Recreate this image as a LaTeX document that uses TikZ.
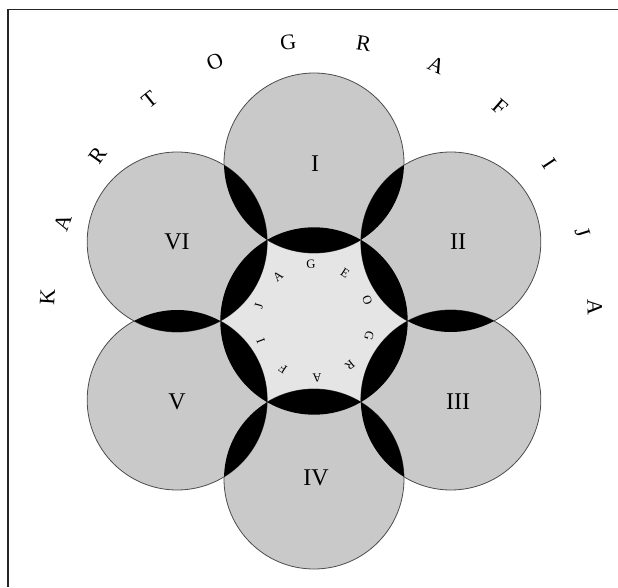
\documentclass[tikz,border=0pt]{standalone}
\usepackage{fontspec}
\setmainfont{Liberation Serif}
\usepackage{tikz}
\usetikzlibrary{positioning}
\usepackage{xcolor}
\definecolor{petalgray}{gray}{0.79}
\definecolor{coregray}{gray}{0.90}
\definecolor{rimgray}{gray}{0.30}

\begin{document}
\begin{tikzpicture}[
  x=1pt, y=1pt,
  petal/.style={fill=petalgray, draw=rimgray, line width=0.8pt},
  core/.style={fill=coregray},
  lens/.style={fill=black},
  frameline/.style={draw=black!85, line width=1.3pt},
  numlbl/.style={font=\fontsize{24}{24}\selectfont, inner sep=0pt},
  arcletter/.style={font=\fontsize{22}{22}\selectfont, inner sep=0pt},
  ringletter/.style={font=\fontsize{12.5}{13}\selectfont, inner sep=0pt}
]
\useasboundingbox (0,0) rectangle (618,587);
\draw[frameline] (8,0) -- (8,577.5) -- (618,577.5);

% centre and the six petals
\coordinate (C) at (314,266);
\coordinate (T) at (321,273);
\foreach \k in {1,...,6}
  \coordinate (c\k) at ([shift={({150-60*\k}:158pt)}]C);

\fill[core] (C) circle (93.7pt);
\foreach \k in {1,...,6} \draw[petal] (c\k) circle (90pt);

% black overlaps: petals with the core, neighbouring petals
\begin{scope}
  \clip (C) circle (93.7pt);
  \foreach \k in {1,...,6} \fill[lens] (c\k) circle (90pt);
\end{scope}
\foreach \k [evaluate=\k as \n using {int(mod(\k,6)+1)}] in {1,...,6} {
  \begin{scope}
    \clip (c\k) circle (90pt);
    \fill[lens] (c\n) circle (90pt);
  \end{scope}
}

\node[numlbl] (lI) at (315,423) {I};
\node[numlbl] (lII) at (458,345) {II};
\node[numlbl] (lIII) at (458,185) {III};
\node[numlbl] (lIV) at (316,109) {IV};
\node[numlbl] (lV) at (177,185) {V};
\node[numlbl] (lVI) at (177,345) {VI};

% lettering round the outside and round the core
\foreach \ch [count=\i from 0] in {K,A,R,T,O,G,R,A,F,I,J,A}
  \node[arcletter, rotate={86.4-15.9*\i}] (kart\i)
    at ([shift={({176.4-15.9*\i}:274pt)}]T) {\ch};
\foreach \ch [count=\i from 0] in {G,E,O,G,R,A,F,I,J,A}
  \node[ringletter, rotate={3-36*\i}] (geo\i)
    at ([shift={({93-36*\i}:57pt)}]C) {\ch};
\end{tikzpicture}
\end{document}
